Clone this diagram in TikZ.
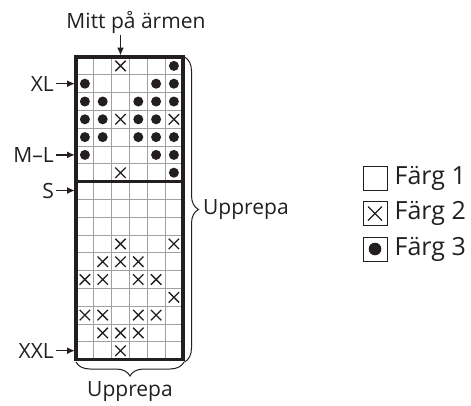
\documentclass[tikz,border=0pt]{standalone}
\usepackage{fontspec}
\setmainfont{Open Sans}
\usetikzlibrary{arrows.meta,decorations.pathreplacing}
\definecolor{ink}{HTML}{231F20}
\definecolor{rutnat}{HTML}{A0A0A0}
\newcommand\ruta{17.8}
\newcommand\kryss[2]{\draw[kryssmark] ({76+(#1-0.5)*\ruta},{57+(#2-0.5)*\ruta}) +(-5.2,-5.2) -- +(5.2,5.2) +(-5.2,5.2) -- +(5.2,-5.2);}
\newcommand\prick[2]{\fill[ink] ({76+(#1-0.5)*\ruta},{57+(#2-0.5)*\ruta}) circle (5);}
\tikzset{
  pil/.style={ink, line width=1.5pt, -{Latex[length=8pt,width=7pt]}},
  kryssmark/.style={ink, line width=1.3pt},
  etikett/.style={font=\fontsize{21}{24}\selectfont, text=ink, inner sep=2pt},
  legendtext/.style={font=\fontsize{25}{28}\selectfont, text=ink, inner sep=0pt},
  klammer/.style={ink, line width=1pt, decorate, decoration={brace, amplitude=14pt}},
  legendruta/.style={draw=ink, line width=0.8pt, minimum size=24pt, inner sep=0pt},
}
\begin{document}
\begin{tikzpicture}[x=1pt,y=-1pt]
\useasboundingbox (0,0) rectangle (471,405);

% Drawing thin grid lines
\foreach \c in {1,...,5}
  {\draw [rutnat, line width=0.9pt] ({76+\c*\ruta},57) -- ({76+\c*\ruta},{57+17*\ruta});}%
\foreach \r in {1,...,6,8,9,...,16}
  {\draw [rutnat, line width=0.9pt] (76,{57+\r*\ruta}) -- ({76+6*\ruta},{57+\r*\ruta});}%

% Marking colour 2 by crosses
\foreach \c/\r in {3/1,3/4,6/4,3/7,3/11,6/11,2/12,3/12,4/12,1/13,2/13,4/13,5/13,
                   6/14,1/15,2/15,4/15,5/15,2/16,3/16,4/16,3/17}
  {\kryss{\c}{\r}}%

% Marking colour 3 by dots
\foreach \c/\r in {6/1,1/2,5/2,6/2,1/3,2/3,4/3,5/3,6/3,1/4,2/4,4/4,5/4,
                   1/5,2/5,4/5,5/5,6/5,1/6,5/6,6/6,6/7}
  {\prick{\c}{\r}}%

% Drawing separator and frame
\draw [ink, line width=2.4pt] (76,{57+7*\ruta}) -- ({76+6*\ruta},{57+7*\ruta});%
\draw [ink, line width=3.4pt] (76,57) rectangle ({76+6*\ruta},{57+17*\ruta});%

% Drawing braces
\draw [klammer] (184.5,57) -- (184.5,362);%
\draw [klammer] (184,362) -- (76,362);%
\node [etikett, anchor=west] (upprepah) at (201,210) {Upprepa};%
\node [etikett] (upprepan) at (130,392) {Upprepa};%

% Marking middle of the sleeve
\node [etikett] (mitt) at (136,22) {Mitt på ärmen};%
\coordinate (mittpil) at (120.5,55.5);%
\draw [pil] (mitt.south -| mittpil) -- (mittpil);%

% Marking sizes
\node [etikett, anchor=east] (xl) at (56,{57+1.5*\ruta}) {XL};%
\node [etikett, anchor=east] (ml) at (56,{57+5.5*\ruta}) {M–L};%
\node [etikett, anchor=east] (s) at (56,{57+7.5*\ruta}) {S};%
\node [etikett, anchor=east] (xxl) at (56,{57+16.5*\ruta}) {XXL};%
\coordinate (xlpil) at (75,{57+1.5*\ruta});%
\coordinate (mlpil) at (75,{57+5.5*\ruta});%
\coordinate (spil) at (75,{57+7.5*\ruta});%
\coordinate (xxlpil) at (75,{57+16.5*\ruta});%
\draw [pil] (xl) -- (xlpil);%
\draw [pil] (ml) -- (mlpil);%
\draw [pil] (s) -- (spil);%
\draw [pil] (xxl) -- (xxlpil);%

% Legend
\node [legendruta] (f1ruta) at (375,178) {};%
\node [legendruta] (f2ruta) at (375,213.5) {};%
\node [legendruta] (f3ruta) at (375,249) {};%
\draw [kryssmark] (f2ruta.center) +(-7,-7) -- +(7,7) +(-7,7) -- +(7,-7);%
\fill [ink] (f3ruta.center) circle (6.3);%
\node [legendtext, anchor=west] (f1) at ([xshift=7pt]f1ruta.east) {Färg 1};%
\node [legendtext, anchor=west] (f2) at ([xshift=7pt]f2ruta.east) {Färg 2};%
\node [legendtext, anchor=west] (f3) at ([xshift=7pt]f3ruta.east) {Färg 3};%
\end{tikzpicture}
\end{document}
